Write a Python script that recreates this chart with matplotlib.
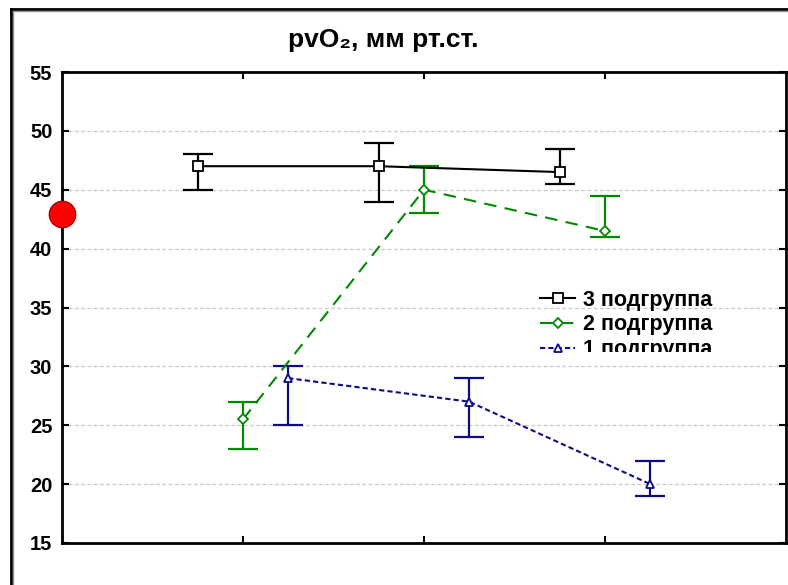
import matplotlib
matplotlib.use('Agg')
import matplotlib.pyplot as plt
from matplotlib.lines import Line2D
from matplotlib.transforms import Bbox, TransformedBbox

plt.rcParams['font.family'] = ['Liberation Sans', 'DejaVu Sans']
plt.rcParams['font.weight'] = 'bold'

# ---- data ----
title = "pvO\u2082, мм рт.ст."
labels = ["3 подгруппа", "2 подгруппа", "1 подгруппа"]

x3 = [0.75, 1.75, 2.75]
y3 = [47.0, 47.0, 46.5]
lo3 = [45.0, 44.0, 45.5]
hi3 = [48.0, 49.0, 48.5]

x2 = [1.0, 2.0, 3.0]
y2 = [25.5, 45.0, 41.5]
lo2 = [23.0, 43.0, 41.0]
hi2 = [27.0, 47.0, 44.5]

x1 = [1.25, 2.25, 3.25]
y1 = [29.0, 27.0, 20.0]
lo1 = [25.0, 24.0, 19.0]
hi1 = [30.0, 29.0, 22.0]

ref_value = 42.9
yticks = [15, 20, 25, 30, 35, 40, 45, 50, 55]
xticks = [1, 2, 3]

W, H = 788, 585
fig = plt.figure(figsize=(W / 100, H / 100), dpi=100)
ax = fig.add_axes([62 / W, 42 / H, 724 / W, 471 / H])

ax.set_xlim(0, 4)
ax.set_ylim(15, 55)
ax.set_yticks(yticks)
ax.set_xticks(xticks)
ax.set_xticklabels([])
ax.tick_params(axis='both', direction='in', length=5, width=1.5,
               top=True, right=True, labelsize=14.5, pad=7)
for lab in ax.get_yticklabels():
    lab.set_fontweight('bold')
for sp in ax.spines.values():
    sp.set_linewidth(2)
ax.grid(axis='y', color='#c8c8c8', linestyle=(0, (3, 2)), linewidth=0.9)
ax.set_axisbelow(True)

series = [
    (x3, y3, lo3, hi3, 'black', '-', 's', 6.5, labels[0]),
    (x2, y2, lo2, hi2, '#008a00', (0, (6, 4)), 'D', 5, labels[1]),
    (x1, y1, lo1, hi1, '#0c0c85', (0, (2.5, 1.5)), '^', 6, labels[2]),
]
handles = []
for xs, ys, lo, hi, c, ls, mk, ms, lab in series:
    yerr = [[y - l for y, l in zip(ys, lo)], [h - y for y, h in zip(ys, hi)]]
    ax.errorbar(xs, ys, yerr=yerr, fmt='none', ecolor=c, elinewidth=1.6,
                capsize=10.5, capthick=1.6, zorder=3)
    ln, = ax.plot(xs, ys, color=c, linestyle=ls, linewidth=1.5, marker=mk,
                  markersize=ms, markerfacecolor='white', markeredgecolor=c,
                  markeredgewidth=1.3, label=lab, zorder=4)
    handles.append(ln)

ax.plot([0], [ref_value], 'o', markersize=19, markerfacecolor='#ff0000',
        markeredgecolor='#b00000', markeredgewidth=1, clip_on=False, zorder=10)

leg = ax.legend(handles=handles, loc='upper left', bbox_to_anchor=(0.646, 0.561),
                frameon=False, fontsize=15.5, borderpad=0, handlelength=1.6,
                handletextpad=0.37, labelspacing=0.18)
for t in leg.get_texts():
    t.set_fontweight('bold')
clip = TransformedBbox(Bbox([[0, 0.4055], [1, 1]]), ax.transAxes)
for art in leg.get_texts() + leg.get_lines():
    art.set_clip_box(clip)
    art.set_clip_on(True)

fig.text(383 / W, 1 - 40 / H, title, ha='center', va='center',
         fontsize=19, fontweight='bold')

# outer frame
fig.add_artist(Line2D([10.5 / W, 10.5 / W], [0, 1 - 8.5 / H], color='black',
                      linewidth=2, transform=fig.transFigure))
fig.add_artist(Line2D([13 / W, 13 / W], [0, 1 - 11 / H], color='#909090',
                      linewidth=1, transform=fig.transFigure))
fig.add_artist(Line2D([10.5 / W, 1], [1 - 8.5 / H, 1 - 8.5 / H], color='black',
                      linewidth=2, transform=fig.transFigure))
fig.add_artist(Line2D([13 / W, 1], [1 - 11 / H, 1 - 11 / H], color='#909090',
                      linewidth=1, transform=fig.transFigure))

fig.savefig('out.png', dpi=100)
